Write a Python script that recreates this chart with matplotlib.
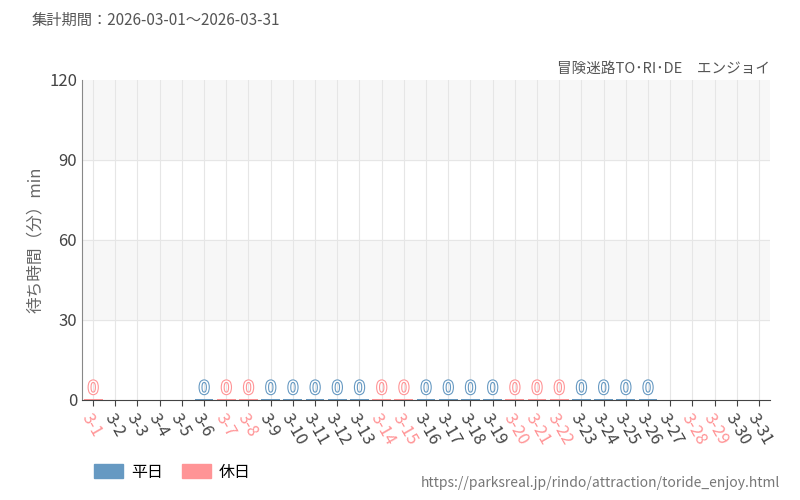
import matplotlib
matplotlib.use("Agg")
import matplotlib.pyplot as plt
import matplotlib.patheffects as pe
from matplotlib.patches import Patch

plt.rcParams['font.family'] = ['Noto Sans CJK JP', 'DejaVu Sans']

days = [f"3-{d}" for d in range(1, 32)]
holidays = ["3-1","3-7","3-8","3-14","3-15","3-20","3-21","3-22","3-28","3-29"]
waits = {"3-1":0,"3-6":0,"3-7":0,"3-8":0,"3-9":0,"3-10":0,"3-11":0,"3-12":0,"3-13":0,
         "3-14":0,"3-15":0,"3-16":0,"3-17":0,"3-18":0,"3-19":0,"3-20":0,"3-21":0,"3-22":0,
         "3-23":0,"3-24":0,"3-25":0,"3-26":0}
BLUE = "#6699c2"; PINK = "#ff9496"

fig = plt.figure(figsize=(8,5), dpi=100)
ax = fig.add_axes([0.1025, 0.2, 0.86, 0.64])
for lo in (30, 90):
    ax.axhspan(lo, lo+30, color="#f7f7f7", zorder=0)
for i, d in enumerate(days):
    ax.axvline(i, color="#e6e6e6", lw=0.8, zorder=0.5)
for y in (30, 60, 90):
    ax.axhline(y, color="#e6e6e6", lw=0.8, zorder=0.5)
for i, d in enumerate(days):
    if d in waits:
        c = PINK if d in holidays else BLUE
        v = waits[d]
        ax.bar(i, max(v, 0.4), width=0.85, color=c, zorder=2)
        t = ax.text(i, v + 0.8, str(v), ha="center", va="bottom", fontsize=13,
                    family="DejaVu Sans", color="white", zorder=3)
        t.set_path_effects([pe.Stroke(linewidth=1.6, foreground=c), pe.Normal()])
ax.set_xlim(-0.5, 30.5)
ax.set_ylim(0, 120)
ax.set_yticks([0, 30, 60, 90, 120])
ax.set_xticks(range(len(days)))
ax.set_xticklabels(days, rotation=-60, ha="left", rotation_mode="anchor", fontsize=12)
for lbl, d in zip(ax.get_xticklabels(), days):
    lbl.set_color(PINK if d in holidays else "#444444")
ax.tick_params(axis='y', labelsize=12, colors="#444444", length=0)
ax.tick_params(axis='x', length=4, color="#444444")
for s in ("top", "right"):
    ax.spines[s].set_visible(False)
ax.spines["left"].set_color("#888888")
ax.spines["bottom"].set_color("#444444")
ax.set_ylabel("待ち時間（分）min", fontsize=12, color="#666666")
fig.text(0.04, 0.95, "集計期間：2026-03-01～2026-03-31", fontsize=11, color="#555555")
fig.text(0.963, 0.855, "冒険迷路TO･RI･DE　エンジョイ", fontsize=10.5, color="#555555", ha="right")
fig.text(0.975, 0.025, "https://parksreal.jp/rindo/attraction/toride_enjoy.html", fontsize=10,
         color="#777777", ha="right")
fig.legend(handles=[Patch(color=BLUE, label="平日"), Patch(color=PINK, label="休日")],
           loc="lower left", bbox_to_anchor=(0.1, 0.01), ncol=2, frameon=False,
           fontsize=11.5, handlelength=1.8, handleheight=1.0, columnspacing=1.2, handletextpad=0.5)
fig.savefig("out.png")
